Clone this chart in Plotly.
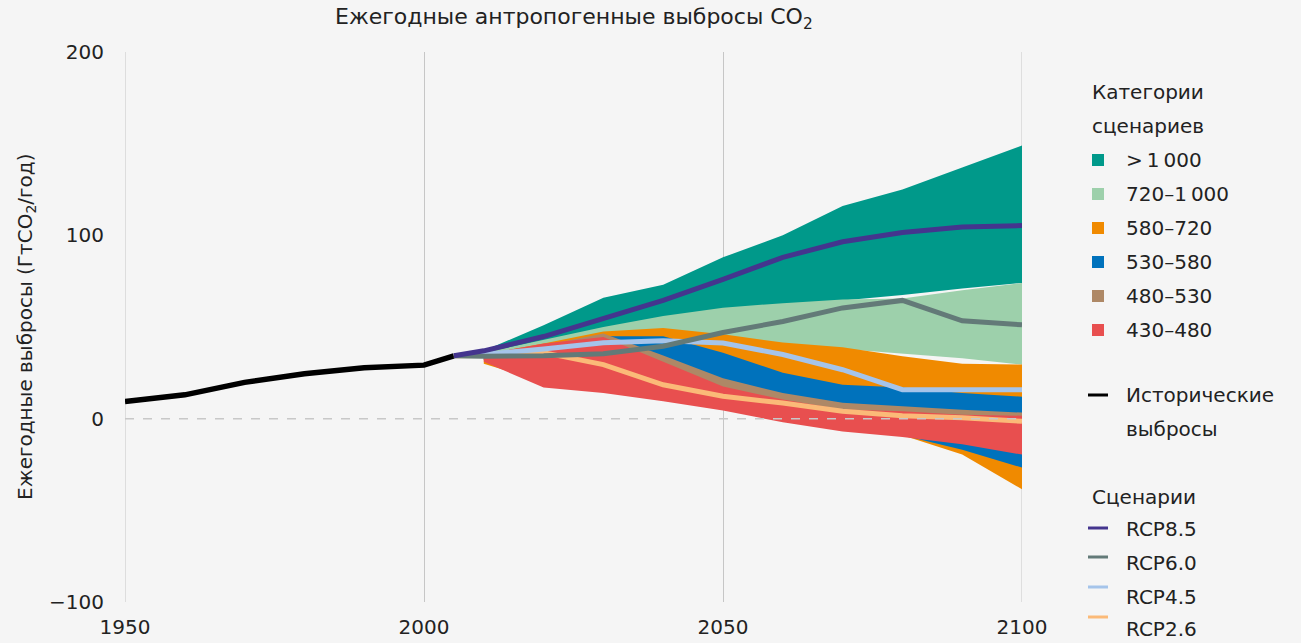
import plotly.graph_objects as go

FONT = "DejaVu Sans"

# ---------------- data ----------------
hist_years = [1950, 1960, 1970, 1980, 1990, 2000, 2005]
hist_values = [9.4, 13.0, 19.8, 24.5, 27.8, 29.2, 34.3]

band_years = [2010, 2020, 2030, 2040, 2050, 2060, 2070, 2080, 2090, 2100]

cat_names = [">\u20091\u2009000", "720\u20131\u2009000", "580\u2013720", "530\u2013580", "480\u2013530", "430\u2013480"]

gt1000_upper = [37, 51, 66, 73, 88, 100, 116, 125, 137, 149]
gt1000_lower = [35, 40, 48, 54, 59, 62, 64.5, 67.5, 71, 74]

c720_upper = [36, 43, 50, 56, 60.5, 63, 65, 65.5, 70, 74]
c720_lower = [35, 38, 44, 46, 44, 40, 38, 35.5, 33, 29.5]

c580_upper = [35, 41, 47.5, 49.5, 46, 41.5, 39, 34, 30, 29.5]
c580_lower = [30, 20, 17, 12, 7, 0, -5, -9, -19.6, -38.5]

c530_upper = [35, 40, 45, 45, 36, 25, 18.5, 17, 14, 12]
c530_lower = [32, 19, 16, 11.5, 6.5, 0, -5, -9, -17, -26.7]

c480_upper = [35, 40, 46.5, 34.5, 22, 14, 8.7, 6.7, 4.9, 3.3]
c480_lower = [32, 19, 16, 11.5, 6.5, 0, -5, -8.5, -12.5, -18]

c430_upper = [35, 41, 44.5, 31, 17.5, 10.4, 5, 4, 2.2, 1.6]
c430_lower = [31, 17, 14, 9.5, 4.5, -2, -7, -10, -14, -19.6]

rcp_years = [2005, 2010, 2020, 2030, 2040, 2050, 2060, 2070, 2080, 2090, 2100]
rcp85 = [34.3, 37, 44.8, 54.5, 64.5, 76, 88, 96.5, 101.5, 104.5, 105.3]
rcp60 = [34.3, 34, 34.3, 35.4, 39.5, 47, 53, 60.4, 64.5, 53.4, 51.2]
rcp45 = [34.3, 35, 38, 41.4, 42.5, 41.3, 35, 26.7, 15.8, 15.8, 15.8]
rcp26 = [34.3, 34.5, 36, 29.5, 18.5, 12.2, 8.5, 4, 1.6, 0.5, -1.4]

x_ticks = [1950, 2000, 2050, 2100]
y_ticks = [-100, 0, 100, 200]
y_ticktext = ["\u2212100", "0", "100", "200"]

# ---------------- styles ----------------
cat_colors = ["#00998A", "#9DD0AB", "#F08A00", "#0072BC", "#AE8866", "#E84F4F"]
bands = [
    (gt1000_upper, gt1000_lower),
    (c720_upper, c720_lower),
    (c580_upper, c580_lower),
    (c530_upper, c530_lower),
    (c480_upper, c480_lower),
    (c430_upper, c430_lower),
]
rcp_names = ["RCP8.5", "RCP6.0", "RCP4.5", "RCP2.6"]
rcp_colors = ["#44358E", "#637A78", "#A5C4EA", "#FBBA78"]
rcp_series = [rcp85, rcp60, rcp45, rcp26]

GRID = "#C6C6C6"

fig = go.Figure()

for (up, lo), col, name in zip(bands, cat_colors, cat_names):
    fig.add_trace(go.Scatter(
        x=band_years + band_years[::-1],
        y=up + lo[::-1],
        fill="toself", fillcolor=col, mode="lines",
        line=dict(width=0, color=col), name=name, showlegend=False,
        hoverinfo="skip"))

fig.add_trace(go.Scatter(x=hist_years, y=hist_values, mode="lines",
                         line=dict(color="#000000", width=5.5),
                         name="Исторические выбросы", showlegend=False))

# draw order: 2.6, 4.5, 6.0, 8.5 (8.5 on top)
for i in [3, 2, 1, 0]:
    fig.add_trace(go.Scatter(x=rcp_years, y=rcp_series[i], mode="lines",
                             line=dict(color=rcp_colors[i], width=5),
                             name=rcp_names[i], showlegend=False))

# ---------------- layout ----------------
L, R, T, B = 125, 279, 52, 41
W, H = 1301, 643
pw, ph = W - L - R, H - T - B

def px(x):
    return (x - L) / pw

def py(y):
    return 1 - (y - T) / ph

fig.update_layout(
    width=W, height=H,
    margin=dict(l=L, r=R, t=T, b=B, autoexpand=False),
    paper_bgcolor="#F5F5F5", plot_bgcolor="#F5F5F5",
    showlegend=False,
    font=dict(family=FONT, size=20, color="#222222"),
    xaxis=dict(range=[1950, 2100], tickvals=x_ticks, showgrid=True,
               gridcolor=GRID, gridwidth=1, zeroline=False, showline=False,
               ticks="outside", ticklen=7, tickcolor="rgba(0,0,0,0)",
               automargin=False,
               tickfont=dict(size=20, color="#222222")),
    yaxis=dict(range=[-100, 200], tickvals=y_ticks, ticktext=y_ticktext,
               showgrid=False, zeroline=False, showline=False,
               ticks="outside", ticklen=16, tickcolor="rgba(0,0,0,0)",
               automargin=False,
               tickfont=dict(size=20, color="#222222")),
)

# grid lines at the range ends (plotly omits them at the plot edges)
for xv in (x_ticks[0], x_ticks[-1]):
    fig.add_shape(type="line", xref="x", yref="paper", x0=xv, x1=xv, y0=0, y1=1,
                  line=dict(color=GRID, width=1), layer="below")

# dashed zero line
fig.add_shape(type="line", xref="paper", x0=0, x1=1, yref="y", y0=0, y1=0,
              line=dict(color="#C8C8C8", width=1.5, dash="dash"), layer="above")

ann = []
# chart title
ann.append(dict(text="Ежегодные антропогенные выбросы CO<sub>2</sub>",
                xref="paper", yref="paper", x=0.5, y=py(19), xanchor="center",
                yanchor="middle", showarrow=False, font=dict(size=22)))
# y-axis title
ann.append(dict(text="Ежегодные выбросы (ГтCO<sub>2</sub>/год)",
                xref="paper", yref="paper", x=px(26), y=0.5, textangle=-90,
                xanchor="center", yanchor="middle", showarrow=False,
                font=dict(size=20)))

# legend (manual)
LX_TEXT = 1124
ann.append(dict(text="Категории", xref="paper", yref="paper", x=px(1090), y=py(92),
                xanchor="left", yanchor="middle", showarrow=False))
ann.append(dict(text="сценариев", xref="paper", yref="paper", x=px(1090), y=py(126),
                xanchor="left", yanchor="middle", showarrow=False))
shapes = []
for k, (name, col) in enumerate(zip(cat_names, cat_colors)):
    yc = 160 + k * 34
    shapes.append(dict(type="rect", xref="paper", yref="paper",
                       x0=px(1092), x1=px(1104), y0=py(yc - 6), y1=py(yc + 6),
                       fillcolor=col, line=dict(width=0)))
    ann.append(dict(text=name, xref="paper", yref="paper", x=px(LX_TEXT), y=py(yc),
                    xanchor="left", yanchor="middle", showarrow=False))

shapes.append(dict(type="line", xref="paper", yref="paper", x0=px(1088), x1=px(1108),
                   y0=py(395), y1=py(395), line=dict(color="#000000", width=3)))
ann.append(dict(text="Исторические", xref="paper", yref="paper", x=px(LX_TEXT), y=py(395),
                xanchor="left", yanchor="middle", showarrow=False))
ann.append(dict(text="выбросы", xref="paper", yref="paper", x=px(LX_TEXT), y=py(429),
                xanchor="left", yanchor="middle", showarrow=False))

ann.append(dict(text="Сценарии", xref="paper", yref="paper", x=px(1090), y=py(497),
                xanchor="left", yanchor="middle", showarrow=False))
line_y = [528, 557, 587, 617]
text_y = [529, 563, 597, 629]
for k, (name, col) in enumerate(zip(rcp_names, rcp_colors)):
    shapes.append(dict(type="line", xref="paper", yref="paper", x0=px(1088), x1=px(1108),
                       y0=py(line_y[k]), y1=py(line_y[k]), line=dict(color=col, width=3)))
    ann.append(dict(text=name, xref="paper", yref="paper", x=px(LX_TEXT), y=py(text_y[k]),
                    xanchor="left", yanchor="middle", showarrow=False))

for s in shapes:
    fig.add_shape(**s)
fig.update_layout(annotations=ann)

fig.write_html("out.html", config={"displayModeBar": False},
               post_script="document.body.style.margin='0';")
